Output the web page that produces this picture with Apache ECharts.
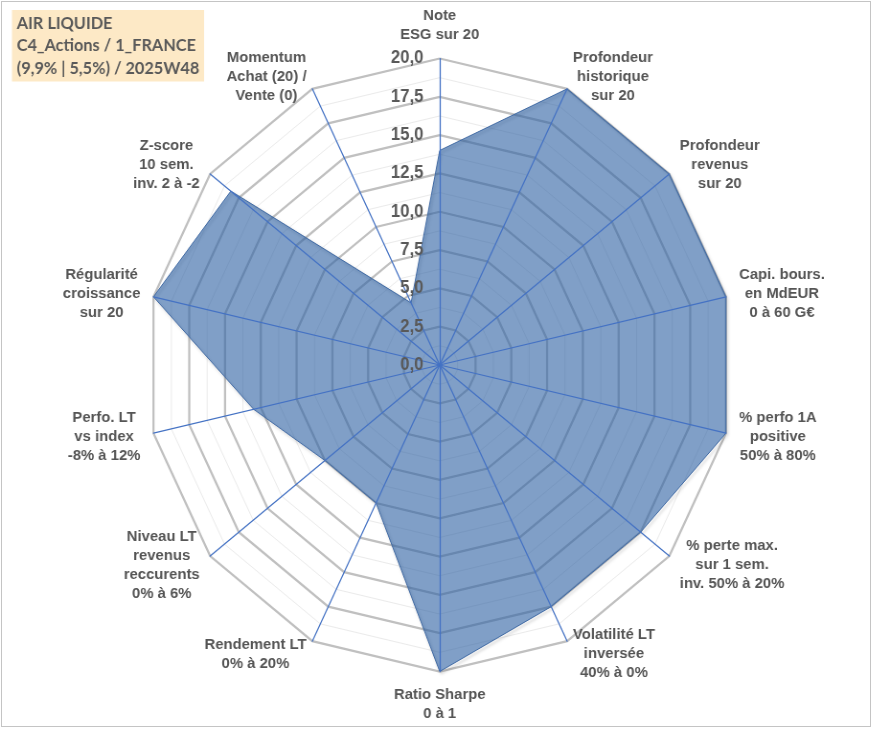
<!DOCTYPE html>
<html><head><meta charset="utf-8">
<script src="https://cdn.jsdelivr.net/npm/echarts@6/dist/echarts.min.js"></script>
<style>
html,body{margin:0;padding:0;background:#fff}
#wrap{position:relative;width:875px;height:731px;overflow:hidden;background:#fff}
/* the reference plot is slightly narrower than tall, so the chart is drawn a bit wider and squeezed horizontally */
#c{position:absolute;left:0;top:0;width:914px;height:731px;transform:scaleX(0.958);transform-origin:0 0}
#frame{position:absolute;left:1px;top:1px;width:868px;height:724px;border:1px solid #c4c4c4;pointer-events:none}
</style>
</head><body><div id="wrap"><div id="c"></div><div id="frame"></div></div>
<script>
// Data, listed clockwise starting at the top axis
const categories = [
  'Note\nESG sur 20',
  'Profondeur\nhistorique\nsur 20',
  'Profondeur\nrevenus\nsur 20',
  'Capi. bours.\nen MdEUR\n0 à 60 G€',
  '% perfo 1A\npositive\n50% à 80%',
  '% perte max.\nsur 1 sem.\ninv. 50% à 20%',
  'Volatilité LT\ninversée\n40% à 0%',
  'Ratio Sharpe\n0 à 1',
  'Rendement LT\n0% à 20%',
  'Niveau LT\nrevenus\nreccurents\n0% à 6%',
  'Perfo. LT\nvs index\n-8% à 12%',
  'Régularité\ncroissance\nsur 20',
  'Z-score\n10 sem.\ninv. 2 à -2',
  'Momentum\nAchat (20) /\nVente (0)'
];
const values = [14, 20, 20, 20, 20, 17.5, 17.5, 20, 10, 10, 13, 20, 18.2, 4.5];
const tickLabels = ['0,0', '2,5', '5,0', '7,5', '10,0', '12,5', '15,0', '17,5', '20,0'];
const titleLines = ['AIR LIQUIDE', 'C4_Actions / 1_FRANCE', '(9,9% | 5,5%) / 2025W48'];
const axisMin = 0, axisMax = 20;

// ECharts places radar indicators counter-clockwise: reorder so the picture reads clockwise
const n = categories.length;
const order = categories.map((_, i) => (n - i) % n);
const orderedNames = order.map(k => categories[k]);
const orderedValues = order.map(k => values[k]);

const CENTER = [459, 365];
const RADIUS = 306.5;
const FONT = '"Liberation Sans", Arial, sans-serif';

function indicators(withLabel) {
  return orderedNames.map((name, i) => {
    const o = { name: name, min: axisMin, max: axisMax };
    if (withLabel && i === 0) o.axisLabel = { show: true };
    return o;
  });
}

const chart = echarts.init(document.getElementById('c'), null, { renderer: 'canvas' });
chart.setOption({
  animation: false,
  backgroundColor: '#ffffff',
  title: {
    text: titleLines.join('\n'),
    left: 12.5, top: 10,
    backgroundColor: '#fde9c6',
    padding: [2, 5, 2, 5],
    textStyle: { fontFamily: 'Lato, "Open Sans", sans-serif', fontWeight: 'bold', fontSize: 17, lineHeight: 22.5, color: '#595959' }
  },
  radar: [
    { // minor grid rings
      center: CENTER, radius: RADIUS, shape: 'polygon', splitNumber: 16, z: 0,
      indicator: indicators(false),
      axisName: { show: false },
      axisLine: { show: false }, axisTick: { show: false }, axisLabel: { show: false },
      splitArea: { show: false },
      splitLine: { lineStyle: { color: '#ebebeb', width: 1 } }
    },
    { // major grid rings
      center: CENTER, radius: RADIUS, shape: 'polygon', splitNumber: 8, z: 1,
      indicator: indicators(false),
      axisName: { show: false },
      axisLine: { show: false }, axisTick: { show: false }, axisLabel: { show: false },
      splitArea: { show: false },
      splitLine: { lineStyle: { color: '#c0c0c0', width: 2.25 } }
    },
    { // spokes, names, tick labels (above the area)
      center: CENTER, radius: RADIUS, shape: 'polygon', splitNumber: 8, z: 3,
      indicator: indicators(true),
      nameGap: 14,
      axisName: {
        formatter: function (v) {
          return String(v).split('\n').map(s => '{c|' + s + '}').join('\n');
        },
        rich: {
          c: { align: 'center', color: '#555555', fontFamily: FONT, fontWeight: 'bold', fontSize: 15.5, lineHeight: 19 }
        }
      },
      axisLine: { show: true, lineStyle: { color: '#4472c4', width: 1.25 } },
      axisTick: { show: false },
      axisLabel: {
        show: false, margin: 17, color: '#595959', fontFamily: FONT, fontWeight: 'bold', fontSize: 17.5,
        formatter: function (v) { const idx = Math.round((v - axisMin) / 2.5); return tickLabels[idx] || ''; }
      },
      splitArea: { show: false },
      splitLine: { show: false }
    }
  ],
  series: [{
    type: 'radar', radarIndex: 1, z: 2,
    symbol: 'none',
    lineStyle: { color: '#4a6fa5', width: 1, shadowColor: 'rgba(0,0,0,0.35)', shadowBlur: 3, shadowOffsetX: 1.5, shadowOffsetY: 2 },
    areaStyle: { color: '#2f62a3', opacity: 0.61 },
    data: [{ value: orderedValues, name: 'AIR LIQUIDE' }]
  }]
});
</script></body></html>
